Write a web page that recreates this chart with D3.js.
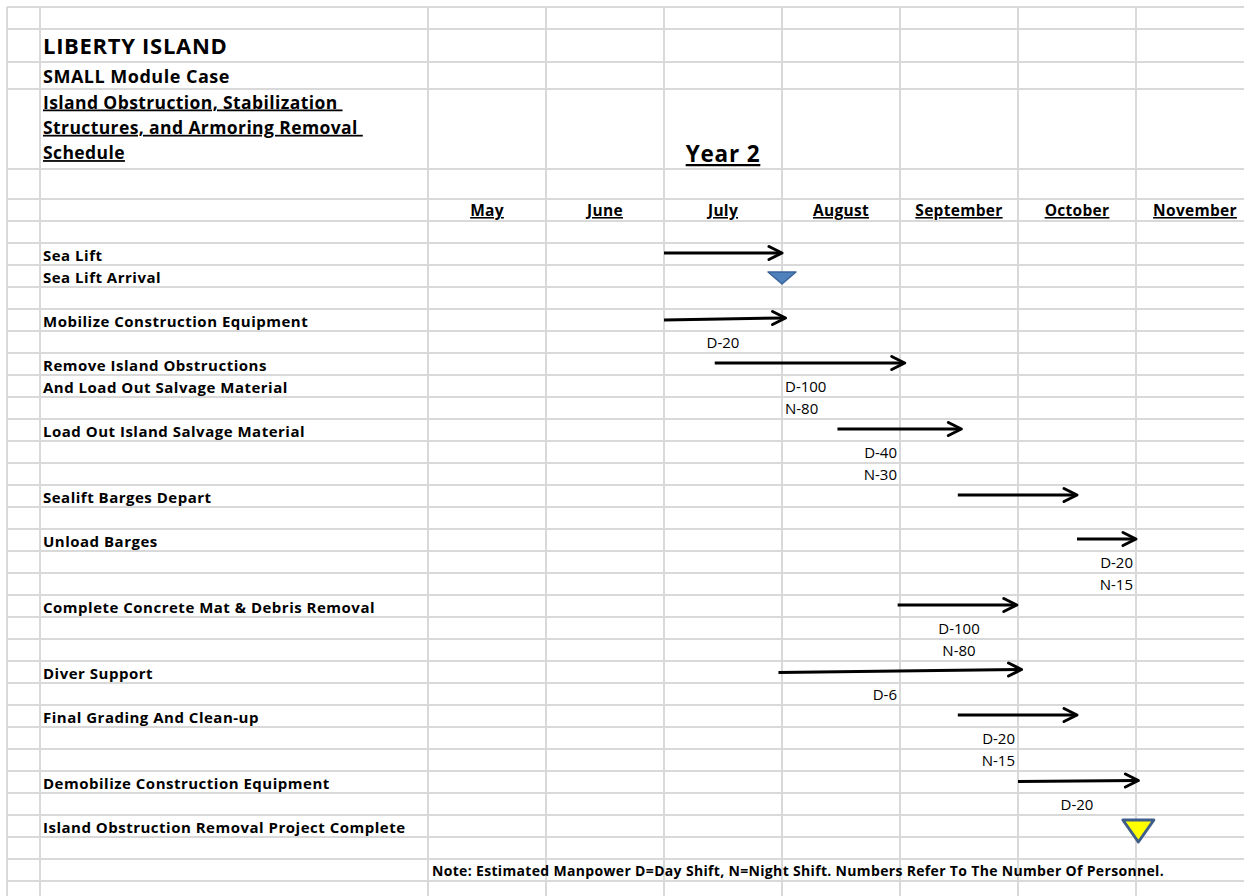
<!DOCTYPE html>
<html>
<head>
<meta charset="utf-8">
<script src="https://cdn.jsdelivr.net/npm/d3@7"></script>
<style>
  body { margin: 0; background: #fff; }
  svg text { font-family: "Open Sans", "DejaVu Sans", sans-serif; white-space: pre; }
</style>
</head>
<body>
<div id="schedule"></div>
<script>
  // month columns across the top
  var months = ["May", "June", "July", "August", "September", "October", "November"]

  // title block
  var titleLines = ["Island Obstruction, Stabilization ", "Structures, and Armoring Removal ", "Schedule"]

  // task labels by row (row 0 = month header row)
  var taskRows = [2, 3, 5, 7, 8, 10, 13, 15, 18, 21, 23, 26, 28]
  var taskNames = ["Sea Lift", "Sea Lift Arrival", "Mobilize Construction Equipment",
    "Remove Island Obstructions", "And Load Out Salvage Material", "Load Out Island Salvage Material",
    "Sealift Barges Depart", "Unload Barges", "Complete Concrete Mat & Debris Removal",
    "Diver Support", "Final Grading And Clean-up", "Demobilize Construction Equipment",
    "Island Obstruction Removal Project Complete"]

  // arrows: row, start and end in months (0 = start of May)
  var arrowRows = [2, 5, 7, 10, 13, 15, 18, 21, 23, 26]
  var arrowStart = [2.0, 2.0, 2.43, 3.47, 4.49, 5.5, 3.98, 2.97, 4.49, 5.0]
  var arrowEnd = [3.0, 3.03, 4.04, 4.52, 5.5, 6.0, 4.99, 5.03, 5.5, 6.02]
  // a couple of the arrows were drawn slightly tilted (pixels, start minus end)
  var arrowTilt = [0, 2, 0, 0, 0, 0, 0, 3, 0, 1]

  // milestones
  var mileRows = [3, 28]
  var mileAt = [3.0, 6.02]
  var mileKind = ["arrival", "complete"]

  // manpower notes: row, month column, text, alignment in cell
  var noteRows = [6, 8, 9, 11, 12, 16, 17, 19, 20, 22, 24, 25, 27]
  var noteCols = [2, 3, 3, 3, 3, 5, 5, 4, 4, 3, 4, 4, 5]
  var noteText = ["D-20", "D-100", "N-80", "D-40", "N-30", "D-20", "N-15", "D-100", "N-80", "D-6", "D-20", "N-15", "D-20"]
  var noteAlign = ["middle", "start", "start", "end", "end", "end", "end", "middle", "middle", "end", "end", "end", "middle"]

  var footNote = "Note: Estimated Manpower D=Day Shift, N=Night Shift. Numbers Refer To The Number Of Personnel."

  var width = 1244, height = 896
  var gridColor = "#d9d9d9"

  var svg = d3.select("#schedule").append("svg")
      .attr("width", width)
      .attr("height", height)

  // month scale: 0 = left edge of May column
  var x = d3.scaleLinear().domain([0, 7]).range([428, 428 + 7 * 118])
  // row scale: 0 = top of month header row
  var y = d3.scaleLinear().domain([0, 1]).range([199, 221])

  var topLines = [7, 29, 62, 89, 169]
  var rowLines = topLines.concat(d3.range(0, 32).map(function(r) { return y(r) }))
  var colLines = [7, 40].concat(d3.range(0, 7).map(function(m) { return x(m) }))

  // grid
  svg.append("g").selectAll("line")
      .data(rowLines)
    .enter().append("line")
      .attr("x1", 7).attr("x2", width)
      .attr("y1", function(d) { return d }).attr("y2", function(d) { return d })
      .attr("stroke", gridColor).attr("stroke-width", 2)

  svg.append("g").selectAll("line")
      .data(colLines)
    .enter().append("line")
      .attr("x1", function(d) { return d }).attr("x2", function(d) { return d })
      .attr("y1", 7).attr("y2", height)
      .attr("stroke", gridColor).attr("stroke-width", 2)

  // title block
  svg.append("text")
      .attr("x", 43).attr("y", 54)
      .attr("font-size", 22).attr("font-weight", "bold")
      .attr("letter-spacing", 0.7)
      .text("LIBERTY ISLAND")

  svg.append("text")
      .attr("x", 43).attr("y", 83)
      .attr("font-size", 18).attr("font-weight", "bold")
      .attr("letter-spacing", 0.5)
      .text("SMALL Module Case")

  svg.selectAll(".title-line")
      .data(titleLines)
    .enter().append("text")
      .attr("class", "title-line")
      .attr("x", 43)
      .attr("y", function(d, i) { return 108.5 + i * 25.3 })
      .attr("font-size", 17.5).attr("font-weight", "bold")
      .attr("letter-spacing", 0.4)
      .attr("text-decoration", "underline")
      .text(function(d) { return d })

  svg.append("text")
      .attr("x", (x(2) + x(3)) / 2).attr("y", 162)
      .attr("text-anchor", "middle")
      .attr("font-size", 22.5).attr("font-weight", "bold")
      .attr("letter-spacing", 0.8)
      .attr("text-decoration", "underline")
      .text("Year 2")

  // month headers
  svg.selectAll(".month")
      .data(months)
    .enter().append("text")
      .attr("class", "month")
      .attr("x", function(d, i) { return x(i + 0.5) })
      .attr("y", y(0.5) + 6)
      .attr("text-anchor", "middle")
      .attr("font-size", 15.5).attr("font-weight", "bold")
      .attr("letter-spacing", 0.3)
      .attr("text-decoration", "underline")
      .text(function(d) { return d })

  // task labels
  svg.selectAll(".task")
      .data(taskNames)
    .enter().append("text")
      .attr("class", "task")
      .attr("x", 43)
      .attr("y", function(d, i) { return y(taskRows[i] + 0.5) + 6.5 })
      .attr("font-size", 15).attr("font-weight", "bold")
      .attr("letter-spacing", 0.5)
      .text(function(d) { return d })

  // manpower notes
  svg.selectAll(".note")
      .data(noteText)
    .enter().append("text")
      .attr("class", "note")
      .attr("x", function(d, i) {
        if (noteAlign[i] == "start") return x(noteCols[i]) + 3
        if (noteAlign[i] == "end") return x(noteCols[i] + 1) - 3
        return x(noteCols[i] + 0.5)
      })
      .attr("y", function(d, i) { return y(noteRows[i] + 0.5) + 6 })
      .attr("text-anchor", function(d, i) { return noteAlign[i] })
      .attr("font-size", 15)
      .text(function(d) { return d })

  // arrows
  var arrows = svg.append("g").selectAll("g")
      .data(arrowRows)
    .enter().append("g")

  arrows.append("line")
      .attr("x1", function(d, i) { return x(arrowStart[i]) })
      .attr("x2", function(d, i) { return x(arrowEnd[i]) - 1.5 })
      .attr("y1", function(d, i) { return y(d + 0.5) - 1 + arrowTilt[i] / 2 })
      .attr("y2", function(d, i) { return y(d + 0.5) - 1 - arrowTilt[i] / 2 })
      .attr("stroke", "#000").attr("stroke-width", 3)

  arrows.append("polyline")
      .attr("points", function(d, i) {
        var xe = x(arrowEnd[i]), ym = y(d + 0.5) - 1 - arrowTilt[i] / 2
        return [[xe - 13, ym - 6.5], [xe, ym], [xe - 13, ym + 6.5]].join(" ")
      })
      .attr("fill", "none")
      .attr("stroke", "#000").attr("stroke-width", 3)
      .attr("stroke-linecap", "round").attr("stroke-linejoin", "round")

  // milestone triangles
  svg.append("g").selectAll("path")
      .data(mileRows)
    .enter().append("path")
      .attr("d", function(d, i) {
        var cx = x(mileAt[i])
        if (mileKind[i] == "arrival") {
          var top = y(d) + 7
          return "M" + (cx - 14) + "," + top + "L" + (cx + 14) + "," + top + "L" + cx + "," + (top + 12) + "Z"
        }
        var t = y(d) + 5
        return "M" + (cx - 15.5) + "," + t + "L" + (cx + 15.5) + "," + t + "L" + cx + "," + (t + 22) + "Z"
      })
      .attr("fill", function(d, i) { return mileKind[i] == "arrival" ? "#4f81bd" : "#ffff00" })
      .attr("stroke", function(d, i) { return mileKind[i] == "arrival" ? "#3a649a" : "#3f5f8a" })
      .attr("stroke-width", function(d, i) { return mileKind[i] == "arrival" ? 1.5 : 3 })
      .attr("stroke-linejoin", "round")

  // footnote
  svg.append("text")
      .attr("x", 432).attr("y", y(30.5) + 6)
      .attr("font-size", 14).attr("font-weight", "bold")
      .attr("letter-spacing", 0.33)
      .text(footNote)
</script>
</body>
</html>
